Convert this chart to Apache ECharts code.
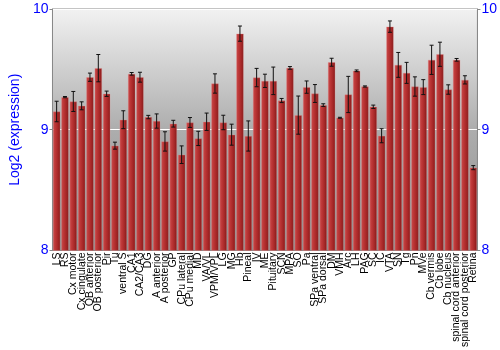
<!DOCTYPE html>
<html>
<head>
<meta charset="utf-8">
<script src="https://cdn.jsdelivr.net/npm/echarts@6/dist/echarts.min.js"></script>
<style>html,body{margin:0;padding:0;background:#fff}#c{width:500px;height:350px}</style>
</head>
<body>
<div id="c"></div>
<script>
const categories = ["LS","RS","Cx motor","Cx cingulate","OB anterior","OB posterior","Pir","Tu","ventral S","CA1","CA2/CA3","DG","A anterior","A posterior","GP","CPu lateral","CPu medial","MD","VA/VL","VPM/VPL","LG","MG","Hb","Pineal","IV","ME","Pituitary","SCN","MPA","SO","Pa","SPa ventral","SPa dorsal","DM","VMH","Arc","LH","PAG","SC","IC","VTA","SN","Tg","Pn","MVe","Cb vermis","Cb lobe","Cb nucleus","spinal cord anterior","spinal cord posterior","Retina"];
const values = [9.151,9.270,9.234,9.198,9.435,9.510,9.298,8.868,9.083,9.463,9.435,9.105,9.072,8.903,9.050,8.793,9.060,8.928,9.066,9.383,9.060,8.959,9.796,8.948,9.432,9.405,9.405,9.242,9.512,9.121,9.353,9.300,9.204,9.559,9.099,9.292,9.488,9.358,9.190,8.950,9.854,9.537,9.471,9.358,9.353,9.579,9.625,9.333,9.579,9.413,8.686];
const errors = [0.085,0.005,0.083,0.033,0.034,0.113,0.022,0.029,0.074,0.011,0.041,0.014,0.059,0.080,0.028,0.073,0.041,0.059,0.072,0.080,0.060,0.087,0.063,0.125,0.076,0.055,0.114,0.017,0.011,0.158,0.051,0.074,0.011,0.033,0.004,0.150,0.007,0.005,0.014,0.058,0.047,0.103,0.087,0.080,0.062,0.121,0.100,0.039,0.011,0.034,0.017];
const yTicks = [8, 9, 10];

const chart = echarts.init(document.getElementById('c'), null, {renderer: 'canvas'});
const font = 'Liberation Sans, Arial, sans-serif';
const errData = values.map((v, i) => [i, v - errors[i], v + errors[i]]);
const yAxisCommon = {
  type: 'value', min: yTicks[0], max: yTicks[yTicks.length - 1], interval: 1,
  axisLine: {show: true, lineStyle: {color: '#888', width: 1}},
  axisTick: {show: true, length: 3, lineStyle: {color: '#888'}},
  axisLabel: {color: '#0000ff', fontSize: 14, fontFamily: font, margin: 4},
  splitLine: {show: false}
};
chart.setOption({
  animation: false,
  grid: {left: 35, right: 21, top: 9, bottom: 99, show: true,
    borderColor: '#888', borderWidth: 1,
    backgroundColor: {type: 'linear', x: 0, y: 0, x2: 0, y2: 1, colorStops: [
      {offset: 0, color: '#f2f2f2'}, {offset: 0.5, color: '#adadad'}, {offset: 1, color: '#8e8e8e'}]}
  },
  xAxis: {
    type: 'category', data: categories,
    axisLine: {show: true, lineStyle: {color: '#888'}},
    axisTick: {show: false},
    axisLabel: {rotate: 90, interval: 0, fontSize: 10.5, fontFamily: font, color: '#000', margin: 2}
  },
  yAxis: [
    Object.assign({}, yAxisCommon, {position: 'left', name: 'Log2 (expression)', nameLocation: 'middle', nameGap: 23,
      nameTextStyle: {color: '#0000ff', fontSize: 14, fontFamily: font},
      splitLine: {show: true, lineStyle: {color: '#ffffff', width: 1}}}),
    Object.assign({}, yAxisCommon, {position: 'right'})
  ],
  series: [
    {
      type: 'bar', data: values, barCategoryGap: '12%',
      itemStyle: {
        color: {type: 'linear', x: 0, y: 0, x2: 1, y2: 0, colorStops: [
          {offset: 0, color: '#c84a4a'}, {offset: 0.35, color: '#bb3535'}, {offset: 0.75, color: '#a02424'}, {offset: 1, color: '#7a1212'}]},
        borderColor: 'rgba(230,140,140,0.55)', borderWidth: 0.6
      }
    },
    {
      type: 'custom', data: errData, z: 10,
      renderItem: function (params, api) {
        const i = api.value(0);
        const lo = api.coord([i, api.value(1)]);
        const hi = api.coord([i, api.value(2)]);
        const w = 2;
        const style = {stroke: '#111', lineWidth: 1};
        return {type: 'group', children: [
          {type: 'line', shape: {x1: lo[0], y1: lo[1], x2: hi[0], y2: hi[1]}, style: style},
          {type: 'line', shape: {x1: lo[0] - w, y1: lo[1], x2: lo[0] + w, y2: lo[1]}, style: style},
          {type: 'line', shape: {x1: hi[0] - w, y1: hi[1], x2: hi[0] + w, y2: hi[1]}, style: style}
        ]};
      }
    }
  ]
});
</script>
</body>
</html>
